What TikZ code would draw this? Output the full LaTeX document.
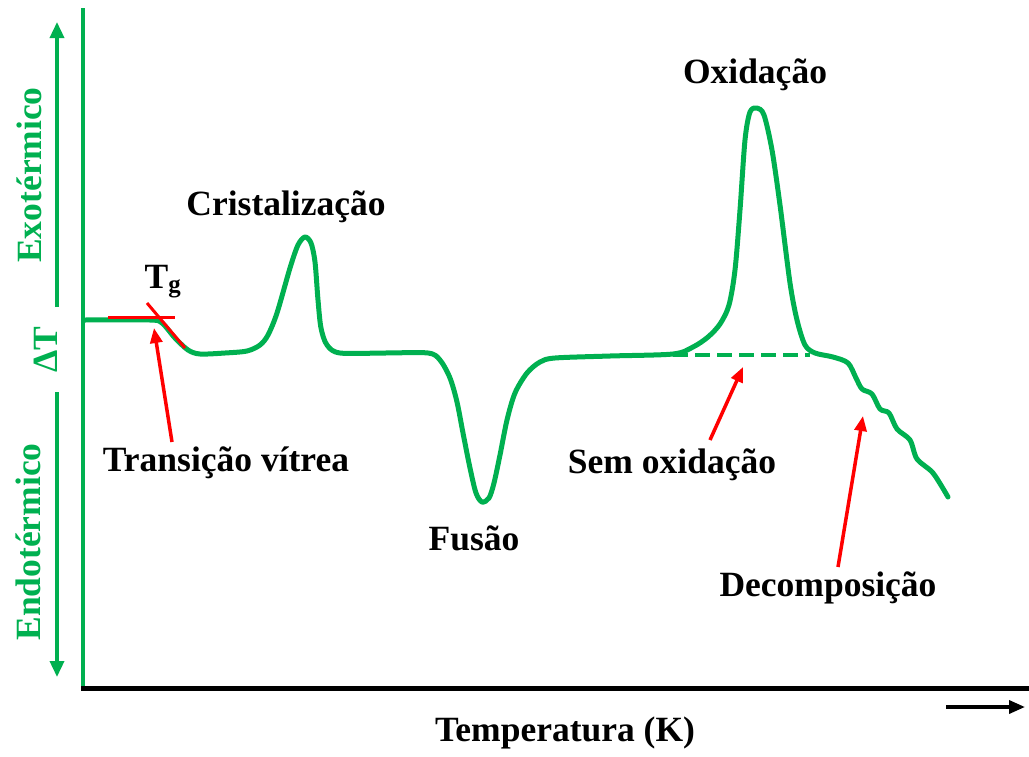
\documentclass[tikz,border=0pt]{standalone}
\usepackage{fontspec}
\setmainfont{Liberation Serif}
\usetikzlibrary{arrows.meta}
\definecolor{dscgreen}{HTML}{00B050}
\tikzset{
  curve/.style={line width=5pt, dscgreen, line join=round, line cap=round},
  lbl/.style={font=\fontsize{35.5}{40}\selectfont\bfseries},
  sidelbl/.style={lbl, dscgreen, rotate=90},
  redarrow/.style={line width=3.5pt, red, -{Triangle[length=15pt,width=12pt]}},
  greenarrow/.style={line width=3.5pt, dscgreen, -{Triangle[length=16pt,width=14pt]}},
}
\begin{document}
\begin{tikzpicture}[x=1pt,y=-1pt]
\useasboundingbox (0,0) rectangle (1029,756);
% axes
\draw[line width=4pt, dscgreen] (83,8) -- (83,690);
\draw[line width=5pt] (81,688) -- (1029,688);
\draw[line width=3.5pt, -{Triangle[length=16pt,width=13pt]}] (946,707) -- (1025,707);
\draw[greenarrow] (57,307) -- (57,22);
\draw[greenarrow] (57,392) -- (57,677);
\node[sidelbl] (exo) at (29,175) {Exotérmico};
\node[sidelbl] (dt) at (46,350) {ΔT};
\node[sidelbl] (endo) at (28,542) {Endotérmico};
\node[lbl] (temp) at (565,733) {Temperatura (K)};
% baseline without oxidation
\draw[line width=4.5pt, dscgreen, dash pattern=on 15pt off 7pt] (673,355) -- (810,355);
% DSC curve
\draw[curve] plot[smooth, tension=0.5] coordinates {
 (85,320) (150,320) (162,323) (175,338) (188,350) (200,354) (225,353) (247,351)
 (260,345) (268,335) (277,313) (290,268) (298,245) (305,237) (311,243)
 (315,262) (318,300) (321,328) (327,345) (340,353) (385,353) (428,353)
 (440,360) (450,378) (457,402) (463,433) (470,468) (476,493) (482,502)
 (489,498) (494,483) (500,455) (507,420) (515,393) (527,373) (540,362)
 (555,358) (610,356) (673,354) (693,347) (708,337) (720,324) (729,305)
 (735,270) (740,210) (745,140) (750,112) (757,108) (764,115) (772,150)
 (780,205) (790,283) (797,320) (805,345) (815,353) (833,357) (848,363)
 (856,378) (862,389) (872,394) (880,409) (889,413) (897,429) (910,440)
 (917,459) (933,473) (948,497)};
% glass transition tangents
\draw[line width=3pt, red] (108,317) -- (175,317);
\draw[line width=3pt, red] (147,303) -- (185,348);
% labels
\node[lbl] (tg) at (163,282) {T\textsubscript{g}};
\node[lbl] (crist) at (286,207) {Cristalização};
\node[lbl] (vitrea) at (226,463) {Transição vítrea};
\node[lbl] (fusao) at (474,538) {Fusão};
\node[lbl] (oxid) at (755,75) {Oxidação};
\node[lbl] (semox) at (672,465) {Sem oxidação};
\node[lbl] (decomp) at (828,588) {Decomposição};
% pointers
\coordinate (tgtail) at (172,442);
\coordinate (tgtip) at (154,328);
\coordinate (semtail) at (710,440);
\coordinate (semtip) at (743,367);
\coordinate (dectail) at (838,567);
\coordinate (dectip) at (863,416);
\draw[redarrow] (tgtail) -- (tgtip);
\draw[redarrow] (semtail) -- (semtip);
\draw[redarrow] (dectail) -- (dectip);
\end{tikzpicture}
\end{document}
